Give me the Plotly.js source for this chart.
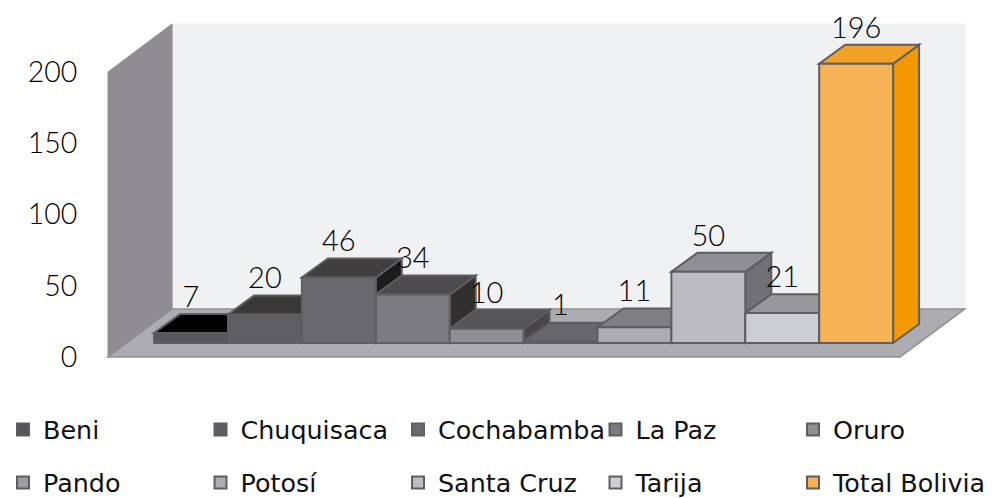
<!DOCTYPE html>
<html>
<head>
<meta charset="utf-8">
<script src="https://cdn.plot.ly/plotly-3.0.1.min.js"></script>
<style>html,body{margin:0;padding:0;background:#fff}#chart{width:993px;height:498px}</style>
</head>
<body>
<div id="chart"></div>
<script>
const categories = ["Beni","Chuquisaca","Cochabamba","La Paz","Oruro","Pando","Potosí","Santa Cruz","Tarija","Total Bolivia"];
const values = [7,20,46,34,10,1,11,50,21,196];
const frontColors = ["#57565a","#5f5e62","#6a696e","#7c7b80","#8f8e92","#9d9ca1","#adacb1","#bcbcc0","#cdced3","#f5b356"];
const topColors = ["#000000","#3a3737","#413e3f","#4d4b4d","#565457","#67666a","#807f83","#8f8e92","#98979b","#f4a128"];
const sideColors = ["#403c3c","#2a2828","#1d1c1c","#302f2e","#4a4748","#4a4a4c","#636267","#717075","#7d7c80","#f29900"];
const yTicks = [0,50,100,150,200];
const edgeColor = "#5e5d61";

// scene geometry in axis units
const barBase = 9.8, depthX = 0.352, depthY = 13.3;
const wallFrontX = -1.123, wallBackX = -0.257, floorFrontRight = 9.594, floorBackRight = 10.47;
const floorDepthY = 33.7, wallTop = 200;

const poly = (pts) => "M" + pts.map(p => p[0] + " " + p[1]).join("L") + "Z";
const face = (pts, fill, line, w) => ({type:"path", xref:"x", yref:"y", layer:"below", path:poly(pts),
  fillcolor:fill, line:{color:line||fill, width:w===undefined?1:w}});

const shapes = [
  face([[wallBackX,floorDepthY],[floorBackRight,floorDepthY],[floorBackRight,wallTop+floorDepthY],[wallBackX,wallTop+floorDepthY]],"#f0f1f3"),
  face([[wallFrontX,0],[wallBackX,floorDepthY],[wallBackX,wallTop+floorDepthY],[wallFrontX,wallTop]],"#8f8d91"),
  face([[wallFrontX,0],[floorFrontRight,0],[floorBackRight,floorDepthY],[wallBackX,floorDepthY]],"#adacb1","#908f93",1.5)
];
categories.forEach((c,i) => {
  const l = i-0.5, r = i+0.5, b = barBase, t = barBase+values[i];
  shapes.push(face([[r,b],[r+depthX,b+depthY],[r+depthX,t+depthY],[r,t]],sideColors[i],edgeColor,2));
  shapes.push(face([[l,t],[r,t],[r+depthX,t+depthY],[l+depthX,t+depthY]],topColors[i],edgeColor,2));
});

const traces = categories.map((c,i) => ({
  type:"bar", name:c, x:[i], y:[values[i]], base:[barBase], width:[1],
  marker:{color:frontColors[i], line:{color:edgeColor, width:2}},
  legend: i<5 ? "legend" : "legend2", hoverinfo:"name+y"
}));
traces.push({
  type:"scatter", mode:"text", showlegend:false, hoverinfo:"skip",
  x:categories.map((c,i)=>i),
  y:values.map(v=>v+barBase+depthY),
  text:values.map(String), textposition:"top center",
  textfont:{family:"Lato, sans-serif", size:29, weight:300, color:"#000000"}, cliponaxis:false
});

const legendCommon = {orientation:"h", xanchor:"left", yanchor:"middle", x:3/993,
  entrywidth:152.5, entrywidthmode:"pixels", bgcolor:"rgba(0,0,0,0)", borderwidth:0,
  font:{family:"DejaVu Sans, Verdana, sans-serif", size:25.4, color:"#111111"}, traceorder:"normal", itemclick:false, itemdoubleclick:false};

const layout = {
  width:993, height:498, margin:{l:0,r:0,t:0,b:0,pad:0,autoexpand:false},
  paper_bgcolor:"#ffffff", plot_bgcolor:"#ffffff", barmode:"overlay", showlegend:true,
  font:{family:"Lato, sans-serif"},
  xaxis:{type:"linear", range:[-2.585,10.852], showgrid:false, zeroline:false, showticklabels:false, ticks:"", showline:false, fixedrange:true},
  yaxis:{type:"linear", range:[-98.95,250.5], anchor:"free", position:108/993, side:"left",
    tickmode:"array", tickvals:yTicks, ticktext:yTicks.map(String), ticks:"outside", ticklen:25, tickcolor:"rgba(0,0,0,0)",
    showgrid:false, zeroline:false, showline:false, automargin:false, fixedrange:true,
    tickfont:{family:"Lato, sans-serif", size:28.5, weight:300, color:"#000000"}},
  shapes:shapes,
  legend:Object.assign({}, legendCommon, {y:1-430/498}),
  legend2:Object.assign({}, legendCommon, {y:1-483/498})
};
Plotly.newPlot("chart", traces, layout, {displayModeBar:false, responsive:false});
</script>
</body>
</html>
